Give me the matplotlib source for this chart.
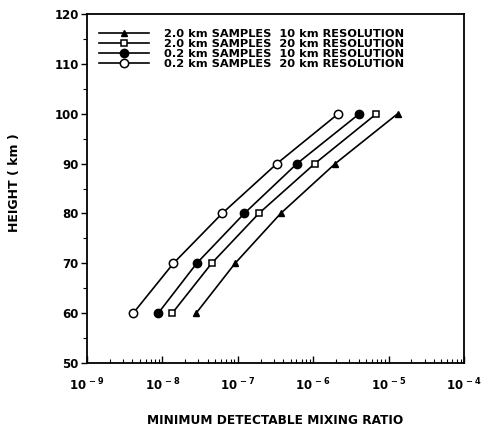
import matplotlib
matplotlib.use("Agg")
import matplotlib.pyplot as plt
from matplotlib.ticker import LogLocator, MultipleLocator, FixedLocator

plt.rcParams['font.family'] = ['DejaVu Sans']
plt.rcParams['font.weight'] = 'bold'
plt.rcParams['mathtext.fontset'] = 'custom'
plt.rcParams['mathtext.rm'] = 'DejaVu Sans:bold'
plt.rcParams['mathtext.bf'] = 'DejaVu Sans:bold'

# heights (km) and minimum detectable mixing ratio for each case
heights = [60, 70, 80, 90, 100]
s20_r10 = [2.8e-8, 9.2e-8, 3.7e-7, 1.96e-6, 1.32e-5]
s20_r20 = [1.35e-8, 4.5e-8, 1.9e-7, 1.05e-6, 6.9e-6]
s02_r10 = [8.8e-9, 2.85e-8, 1.22e-7, 6.1e-7, 4.1e-6]
s02_r20 = [4.1e-9, 1.4e-8, 6.2e-8, 3.3e-7, 2.15e-6]

labels = ["2.0 km SAMPLES  10 km RESOLUTION",
          "2.0 km SAMPLES  20 km RESOLUTION",
          "0.2 km SAMPLES  10 km RESOLUTION",
          "0.2 km SAMPLES  20 km RESOLUTION"]

fig = plt.figure(figsize=(4.9, 4.29), dpi=100)
ax = fig.add_axes([0.1776, 0.1538, 0.7694, 0.8136])

ax.plot(s20_r10, heights, color='black', lw=1.2, marker='^', ms=4.5,
        mfc='black', label=labels[0])
ax.plot(s20_r20, heights, color='black', lw=1.2, marker='s', ms=4.3,
        mfc='white', mew=1.1, label=labels[1])
ax.plot(s02_r10, heights, color='black', lw=1.2, marker='o', ms=6,
        mfc='black', label=labels[2])
ax.plot(s02_r20, heights, color='black', lw=1.2, marker='o', ms=6,
        mfc='white', mew=1.1, label=labels[3])

ax.set_xscale('log')
ax.set_xlim(1e-9, 1e-4)
ax.set_ylim(50, 120)

exps = [-9, -8, -7, -6, -5, -4]
ax.xaxis.set_major_locator(FixedLocator([10.0 ** e for e in exps]))
ax.set_xticklabels(['10$^{\\,%d}$' % e for e in exps])
ax.xaxis.set_minor_locator(LogLocator(base=10, subs=range(2, 10), numticks=20))
ax.yaxis.set_major_locator(MultipleLocator(10))
ax.yaxis.set_minor_locator(MultipleLocator(5))

ax.tick_params(axis='x', which='major', direction='in', length=5, width=1,
               labelsize=8.5, pad=10)
ax.tick_params(axis='x', which='minor', direction='in', length=3, width=0.8)
ax.tick_params(axis='y', which='major', direction='out', length=4, width=1,
               labelsize=8.5, pad=2)
ax.tick_params(axis='y', which='minor', direction='out', length=3, width=0.8)
for lab in ax.get_yticklabels() + ax.get_xticklabels():
    lab.set_fontweight('bold')

for sp in ax.spines.values():
    sp.set_linewidth(1.3)

ax.set_xlabel("MINIMUM DETECTABLE MIXING RATIO", fontsize=8.7,
              fontweight='bold', labelpad=15)
ax.set_ylabel("HEIGHT ( km )", fontsize=9, fontweight='bold')
ax.yaxis.set_label_coords(-0.175, 0.516)

leg = ax.legend(loc='upper left', frameon=False,
                bbox_to_anchor=(0.032, 0.956), borderpad=0, borderaxespad=0,
                handlelength=4.4, handletextpad=1.3, labelspacing=0.0,
                prop={'weight': 'bold', 'size': 8.2})

fig.savefig("out.png", dpi=100)
